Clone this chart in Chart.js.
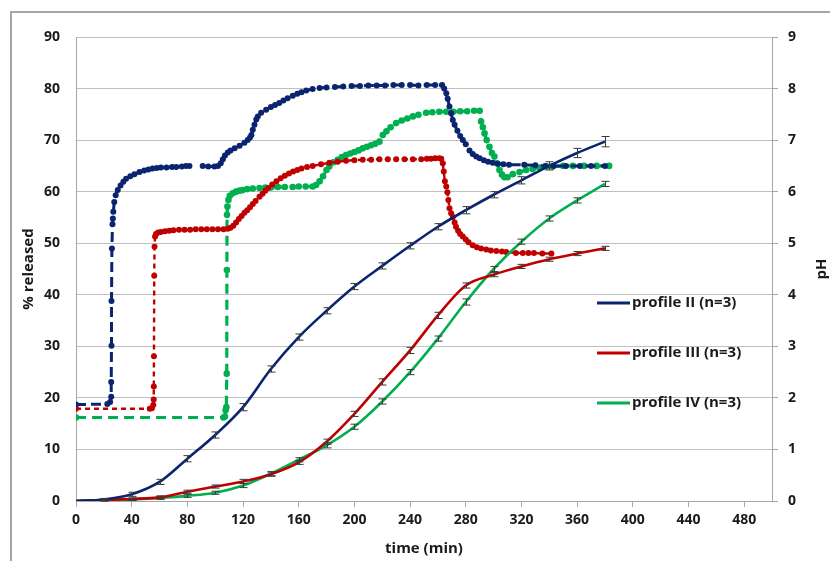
<!DOCTYPE html>
<html>
<head>
<meta charset="utf-8">
<script src="https://cdn.jsdelivr.net/npm/chart.js@4.4.0/dist/chart.umd.min.js"></script>
<style>
  body { margin: 0; background: #fff; overflow: hidden; }
  #wrap { position: relative; width: 830px; height: 561px; }
  #frame { position: absolute; left: 10px; top: 11px; width: 900px; height: 700px; border: 2px solid #a6a6a6; box-sizing: border-box; }
  canvas { position: absolute; left: 0; top: 0; }
</style>
</head>
<body>
<div id="wrap">
  <div id="frame"></div>
  <canvas id="chart" width="830" height="561"></canvas>
</div>
<script>
// release sampling times (min) and mean % released
const releaseTime = [0, 20, 40, 60, 80, 100, 120, 140, 160, 180, 200, 220, 240, 260, 280, 300, 320, 340, 360, 380];
const releaseII  = [0, 0.3, 1.3, 3.7, 8.2, 12.8, 18.2, 25.6, 31.8, 36.9, 41.6, 45.6, 49.5, 53.2, 56.4, 59.4, 62.2, 65.0, 67.5, 69.7];
const releaseIII = [0, 0.2, 0.4, 0.7, 1.8, 2.8, 3.8, 5.2, 7.5, 11.5, 16.9, 23.1, 29.2, 36.0, 41.8, 43.9, 45.5, 46.9, 48.0, 49.0];
const releaseIV  = [0, 0.2, 0.3, 0.6, 1.0, 1.6, 3.0, 5.3, 8.0, 10.8, 14.4, 19.3, 25.0, 31.5, 38.6, 45.0, 50.3, 54.8, 58.3, 61.5];
// standard deviations
const sdII  = [0, 0.2, 0.4, 0.5, 0.6, 0.6, 0.7, 0.6, 0.6, 0.6, 0.6, 0.6, 0.6, 0.6, 0.7, 0.6, 0.7, 0.8, 0.9, 1.0];
const sdIII = [0, 0.2, 0.2, 0.3, 0.3, 0.3, 0.4, 0.4, 0.4, 0.5, 0.5, 0.6, 0.6, 0.6, 0.5, 0.4, 0.4, 0.4, 0.4, 0.4];
const sdIV  = [0, 0.2, 0.2, 0.3, 0.3, 0.3, 0.4, 0.4, 0.4, 0.5, 0.5, 0.5, 0.5, 0.5, 0.6, 0.5, 0.5, 0.5, 0.5, 0.5];

// pH profiles (right axis)
const phTimeII = [0, 22.5, 24.5, 25.3, 25.3, 25.5, 25.5, 25.8, 26.2, 26.5, 26.8, 27.5, 28.5, 30, 32, 34, 36, 39, 42, 45.6, 49, 52, 55, 58, 61, 65, 69, 72, 76, 79, 81.5,
  86, 91, 95, 99.5, 102, 104, 105.5, 107, 109, 111, 114, 117.5, 121, 123.4, 125, 126, 127, 128.2, 129.5, 130.6, 133, 136.6, 140, 143, 146, 149, 152, 155.7, 159, 162, 165.4,
  170, 175, 180, 186, 192, 198, 204, 210, 216, 222, 228, 234, 240, 246, 252, 258, 263, 264.5, 266, 267, 268.3, 269.5, 270.7, 272, 274, 276, 277.9, 280, 282.7, 285, 287.5,
  290, 293, 296, 299.4, 303, 307, 311, 322, 330, 337, 343, 352, 362, 370, 380];
const phII = [1.87, 1.88, 1.92, 2.02, 2.31, 3.01, 3.88, 4.9, 5.37, 5.48, 5.61, 5.8, 5.93, 6.03, 6.12, 6.19, 6.25, 6.3, 6.34, 6.38, 6.41, 6.43, 6.45, 6.46, 6.47, 6.47, 6.48, 6.48, 6.49, 6.5, 6.5,
  null, 6.5, 6.49, 6.49, 6.5, 6.55, 6.63, 6.7, 6.76, 6.8, 6.84, 6.89, 6.95, 7.0, 7.05, 7.1, 7.2, 7.3, 7.4, 7.46, 7.53, 7.59, 7.64, 7.68, 7.72, 7.77, 7.81, 7.86, 7.9, 7.93, 7.96,
  7.99, 8.01, 8.02, 8.03, 8.04, 8.05, 8.05, 8.06, 8.06, 8.06, 8.07, 8.07, 8.07, 8.06, 8.07, 8.07, 8.07, 8.0, 7.91, 7.8, 7.65, 7.52, 7.39, 7.3, 7.18, 7.08, 7.0, 6.92, 6.8, 6.73, 6.68,
  6.65, 6.61, 6.58, 6.56, 6.54, 6.53, 6.52, 6.52, 6.51, 6.5, 6.5, 6.5, 6.5, 6.5, 6.5];

const phTimeIII = [0, 53, 54.5, 55.5, 55.8, 55.9, 56, 56.2, 56.4, 56.8, 57.5, 59, 61, 64, 67, 70, 74, 78, 82, 86, 90, 94, 98, 102, 106, 109, 111, 113, 115, 117, 119, 121, 123, 125, 127, 129,
  131.8, 134, 136, 138, 141, 144, 147, 150, 153, 156, 159, 162, 166, 170, 176, 182, 188, 194, 200, 206, 212, 218, 224, 230, 236, 242, 248, 252, 255, 258, 261,
  262.4, 263.5, 264.2, 265, 266, 266.8, 267.5, 268.3, 269.5, 270.7, 272, 273, 274.5, 276, 277.9, 280, 282, 285, 288, 291, 294.7, 298, 302, 306, 309, 316, 321, 325, 329, 335, 341.5];
const phIII = [1.79, 1.79, 1.8, 1.86, 1.97, 2.22, 2.81, 4.37, 4.93, 5.13, 5.18, 5.21, 5.22, 5.23, 5.24, 5.25, 5.26, 5.26, 5.26, 5.27, 5.27, 5.27, 5.27, 5.27, 5.27, 5.28, 5.3, 5.34, 5.4, 5.47, 5.53, 5.59, 5.64, 5.7, 5.76, 5.82,
  5.9, 5.96, 6.02, 6.07, 6.14, 6.2, 6.26, 6.31, 6.35, 6.39, 6.42, 6.45, 6.48, 6.5, 6.53, 6.56, 6.58, 6.6, 6.61, 6.62, 6.62, 6.63, 6.63, 6.63, 6.63, 6.63, 6.63, 6.64, 6.64, 6.65, 6.65,
  6.64, 6.55, 6.39, 6.2, 6.1, 5.99, 5.84, 5.68, 5.58, 5.51, 5.4, 5.32, 5.24, 5.18, 5.13, 5.07, 5.02, 4.96, 4.92, 4.9, 4.88, 4.86, 4.85, 4.84, 4.83, 4.81, 4.81, 4.81, 4.81, 4.8, 4.8];

const phTimeIV = [0, 106, 107, 107.5, 108, 108.3, 108.4, 108.5, 108.8, 109.5, 110.5, 112.6, 115, 117.5, 119.8, 123, 127, 131.8, 136, 140, 145, 150, 155.7, 160, 165, 170,
  172.5, 175, 177.5, 180, 182, 185, 188, 191, 194, 197, 200, 203, 206, 209, 212, 215, 218, 220.4, 223, 226, 230, 234, 238, 242, 246, 251.6, 256, 261, 266, 271, 276, 281, 286, 290,
  291, 292.3, 293.5, 295, 297, 298.8, 300.6, 302.4, 304.2, 306, 307.8, 310, 313.8, 318.6, 323.4, 328, 333, 338, 342.5, 350, 357, 365, 374, 383];
const phIV = [1.62, 1.62, 1.64, 1.76, 1.82, 2.47, 4.48, 5.55, 5.71, 5.84, 5.92, 5.97, 6.0, 6.02, 6.03, 6.05, 6.06, 6.07, 6.08, 6.08, 6.09, 6.09, 6.09, 6.1, 6.1, 6.1,
  6.13, 6.2, 6.3, 6.42, 6.49, 6.57, 6.62, 6.67, 6.71, 6.74, 6.77, 6.8, 6.84, 6.87, 6.9, 6.93, 6.97, 7.1, 7.17, 7.25, 7.33, 7.38, 7.42, 7.46, 7.49, 7.53, 7.54, 7.55, 7.55, 7.55, 7.56, 7.56, 7.57, 7.57,
  7.36, 7.25, 7.13, 7.0, 6.87, 6.75, 6.68, 6.55, 6.42, 6.33, 6.28, 6.28, 6.34, 6.38, 6.42, 6.44, 6.47, 6.49, 6.49, 6.5, 6.5, 6.5, 6.5, 6.5];

const xTicks = { min: 0, max: 500, step: 40 };

const BLUE = '#0a2470';
const RED = '#c00000';
const GREEN = '#00b050';
const FONT = "'Open Sans', 'DejaVu Sans', sans-serif";

const pts = (xs, ys) => xs.map((x, i) => ({ x: x, y: ys[i] }));

function releaseSet(label, ys, sd, color) {
  return {
    label: label, data: pts(releaseTime, ys), sd: sd, yAxisID: 'y',
    borderColor: color, backgroundColor: color, borderWidth: 2.6,
    pointRadius: 0, showLine: true, cubicInterpolationMode: 'monotone', order: 1, isRelease: true
  };
}
function phSet(xs, ys, color, dash, width, r) {
  return {
    label: 'pH', data: pts(xs, ys), yAxisID: 'y2',
    borderColor: color, backgroundColor: color, borderWidth: width, borderDash: dash,
    pointRadius: r, pointBorderWidth: 0, showLine: true, spanGaps: false, tension: 0, order: 2
  };
}

// error bars drawn from the sd arrays
const errorBars = {
  id: 'errorBars',
  afterDatasetsDraw(chart) {
    const ctx = chart.ctx, xs = chart.scales.x, ys = chart.scales.y;
    ctx.save();
    ctx.strokeStyle = '#3a3a3a';
    ctx.lineWidth = 1;
    chart.data.datasets.forEach(ds => {
      if (!ds.sd) return;
      ds.data.forEach((p, i) => {
        const e = ds.sd[i];
        if (!e) return;
        const x = Math.round(xs.getPixelForValue(p.x)) + 0.5;
        const y1 = ys.getPixelForValue(p.y + e), y2 = ys.getPixelForValue(p.y - e);
        ctx.beginPath();
        ctx.moveTo(x, y1); ctx.lineTo(x, y2);
        ctx.moveTo(x - 4, y1); ctx.lineTo(x + 4, y1);
        ctx.moveTo(x - 4, y2); ctx.lineTo(x + 4, y2);
        ctx.stroke();
      });
    });
    ctx.restore();
  }
};

// legend inside the plot, and the right axis title reading upwards
const extras = {
  id: 'extras',
  afterDraw(chart) {
    const ctx = chart.ctx, a = chart.chartArea;
    ctx.save();
    const rel = chart.data.datasets.filter(d => d.isRelease);
    const x0 = a.left + 521, gap = 50;
    rel.forEach((d, i) => {
      const y = a.top + 266 + i * gap;
      ctx.strokeStyle = d.borderColor;
      ctx.lineWidth = 3;
      ctx.beginPath(); ctx.moveTo(x0, y); ctx.lineTo(x0 + 33, y); ctx.stroke();
      ctx.fillStyle = '#1a1a1a';
      ctx.font = 'bold 15px ' + FONT;
      ctx.textBaseline = 'middle';
      ctx.fillText(d.label, x0 + 35, y);
    });
    ctx.translate(822, (a.top + a.bottom) / 2);
    ctx.rotate(-Math.PI / 2);
    ctx.textAlign = 'center';
    ctx.textBaseline = 'middle';
    ctx.font = 'bold 15px ' + FONT;
    ctx.fillStyle = '#1a1a1a';
    ctx.fillText('pH', 0, 0);
    ctx.restore();
  }
};

const tickFont = { family: FONT, size: 14, weight: 'bold' };
const titleFont = { family: FONT, size: 15, weight: 'bold' };

new Chart(document.getElementById('chart'), {
  type: 'scatter',
  data: {
    datasets: [
      releaseSet('profile II (n=3)', releaseII, sdII, BLUE),
      releaseSet('profile III (n=3)', releaseIII, sdIII, RED),
      releaseSet('profile IV (n=3)', releaseIV, sdIV, GREEN),
      phSet(phTimeII, phII, BLUE, [10, 5], 3, 3),
      phSet(phTimeIII, phIII, RED, [5, 4], 2.4, 3),
      phSet(phTimeIV, phIV, GREEN, [10, 6], 3.2, 3.3)
    ]
  },
  options: {
    responsive: false,
    animation: false,
    layout: { padding: { top: 37, left: 0, right: 0, bottom: 0 } },
    plugins: { legend: { display: false }, tooltip: { enabled: false } },
    scales: {
      x: {
        type: 'linear', min: xTicks.min, max: xTicks.max,
        ticks: { stepSize: xTicks.step, includeBounds: false, font: tickFont, color: '#1a1a1a', padding: 5, maxRotation: 0 },
        grid: { drawOnChartArea: false, tickLength: 6, color: '#a6a6a6' },
        border: { color: '#a6a6a6' },
        title: { display: true, text: 'time (min)', font: titleFont, color: '#1a1a1a', padding: { top: 0, bottom: 3 } },
        afterFit: s => { s.height = 60; }
      },
      y: {
        position: 'left', min: 0, max: 90,
        ticks: { stepSize: 10, font: tickFont, color: '#1a1a1a', padding: 16 },
        grid: { color: '#c0c0c0', tickLength: 0 },
        border: { color: '#a6a6a6' },
        title: { display: true, text: '% released', font: titleFont, color: '#1a1a1a', padding: { top: 20, bottom: 0 } },
        afterFit: s => { s.width = 76; }
      },
      y2: {
        position: 'right', min: 0, max: 9,
        ticks: { stepSize: 1, font: tickFont, color: '#1a1a1a', padding: 10 },
        grid: { drawOnChartArea: false, tickLength: 6, color: '#a6a6a6' },
        border: { color: '#a6a6a6' },
        afterFit: s => { s.width = 58; }
      }
    }
  },
  plugins: [errorBars, extras]
});
</script>
</body>
</html>
